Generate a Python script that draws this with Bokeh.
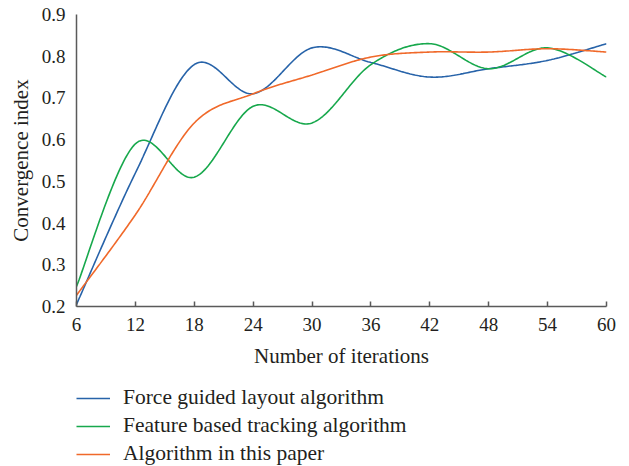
import numpy as np
from bokeh.plotting import figure
from bokeh.layouts import column
from bokeh.models import Legend, LegendItem, Range1d, FixedTicker
from bokeh.embed import file_html
from bokeh.resources import INLINE

iterations = [6, 12, 18, 24, 30, 36, 42, 48, 54, 60]
force_guided = [0.205, 0.52, 0.78, 0.71, 0.82, 0.785, 0.75, 0.77, 0.79, 0.83]
feature_based = [0.248, 0.59, 0.51, 0.68, 0.64, 0.78, 0.83, 0.77, 0.82, 0.75]
this_paper = [0.227, 0.42, 0.64, 0.71, 0.755, 0.798, 0.81, 0.81, 0.818, 0.81]

series_names = ["Force guided layout algorithm", "Feature based tracking algorithm", "Algorithm in this paper"]
series_colors = ["#2763a9", "#17a84c", "#f0692a"]
y_ticks = [0.2, 0.3, 0.4, 0.5, 0.6, 0.7, 0.8, 0.9]

FONT = "Liberation Serif"
TEXT = "#231f20"
AXIS = "#5a5a5a"


def smooth(xs, ys, n=40):
    """Excel-like smoothed line: cubic Bezier with Catmull-Rom tangents."""
    xs = np.asarray(xs, float)
    ys = np.asarray(ys, float)
    px = np.concatenate([[xs[0]], xs, [xs[-1]]])
    py = np.concatenate([[ys[0]], ys, [ys[-1]]])
    outx, outy = [], []
    t = np.linspace(0, 1, n)
    for i in range(1, len(px) - 2):
        x0, y0 = px[i], py[i]
        x3, y3 = px[i + 1], py[i + 1]
        x1 = x0 + (px[i + 1] - px[i - 1]) / 6
        y1 = y0 + (py[i + 1] - py[i - 1]) / 6
        x2 = x3 - (px[i + 2] - px[i]) / 6
        y2 = y3 - (py[i + 2] - py[i]) / 6
        bx = (1 - t) ** 3 * x0 + 3 * (1 - t) ** 2 * t * x1 + 3 * (1 - t) * t ** 2 * x2 + t ** 3 * x3
        by = (1 - t) ** 3 * y0 + 3 * (1 - t) ** 2 * t * y1 + 3 * (1 - t) * t ** 2 * y2 + t ** 3 * y3
        outx.extend(bx.tolist())
        outy.extend(by.tolist())
    return outx, outy


p = figure(width=629, height=375, output_backend="svg", toolbar_location=None,
           x_range=Range1d(6, 60), y_range=Range1d(0.2, 0.9),
           min_border_left=76, min_border_right=23, min_border_top=14, min_border_bottom=69)
p.outline_line_color = None
p.grid.visible = False
p.background_fill_color = "white"
p.border_fill_color = "white"

for ys, c in zip([force_guided, feature_based, this_paper], series_colors):
    sx, sy = smooth(iterations, ys)
    p.line(sx, sy, line_color=c, line_width=1.6)

p.xaxis.ticker = FixedTicker(ticks=iterations)
p.yaxis.ticker = FixedTicker(ticks=y_ticks)
p.yaxis.formatter.use_scientific = False

for ax in [p.xaxis[0], p.yaxis[0]]:
    ax.axis_line_color = AXIS
    ax.axis_line_width = 1.5
    ax.major_tick_line_color = AXIS
    ax.major_tick_line_width = 1.5
    ax.minor_tick_line_color = None
    ax.major_label_text_font = FONT
    ax.major_label_text_font_size = "19px"
    ax.major_label_text_color = TEXT
    ax.axis_label_text_font = FONT
    ax.axis_label_text_font_size = "21px"
    ax.axis_label_text_color = TEXT
    ax.axis_label_text_font_style = "normal"

p.xaxis.major_tick_in = 5
p.xaxis.major_tick_out = 0
p.xaxis.major_label_standoff = 11
p.xaxis.axis_label = "Number of iterations"
p.xaxis.axis_label_standoff = 10

p.yaxis.major_tick_in = 0
p.yaxis.major_tick_out = 0
p.yaxis.major_label_standoff = 11
p.yaxis.axis_label = "Convergence index"
p.yaxis.axis_label_standoff = 6

# legend strip below the chart (its frame is aligned with the chart's frame)
lg = figure(width=629, height=91, output_backend="svg", toolbar_location=None,
            x_range=Range1d(0, 1), y_range=Range1d(0, 1),
            x_axis_type=None, y_axis_type=None,
            min_border_left=0, min_border_right=0, min_border_top=0, min_border_bottom=0)
lg.outline_line_color = None
lg.grid.visible = False
lg.border_fill_color = "white"
items = []
for n, c in zip(series_names, series_colors):
    # off-screen stand-in line, only used to draw the legend swatch
    r = lg.line([5, 6], [5, 6], line_color=c, line_width=1.6)
    items.append(LegendItem(label=n, renderers=[r]))

legend = Legend(items=items, location=(0, 0), orientation="vertical",
                glyph_width=34, glyph_height=24, label_height=24, spacing=3,
                label_standoff=13, padding=0, margin=0,
                border_line_color=None, background_fill_alpha=0,
                label_text_font=FONT, label_text_font_size="21.5px", label_text_color=TEXT)
lg.add_layout(legend, "center")

layout = column(p, lg, spacing=0)
open("out.html", "w").write(file_html(layout, INLINE))
